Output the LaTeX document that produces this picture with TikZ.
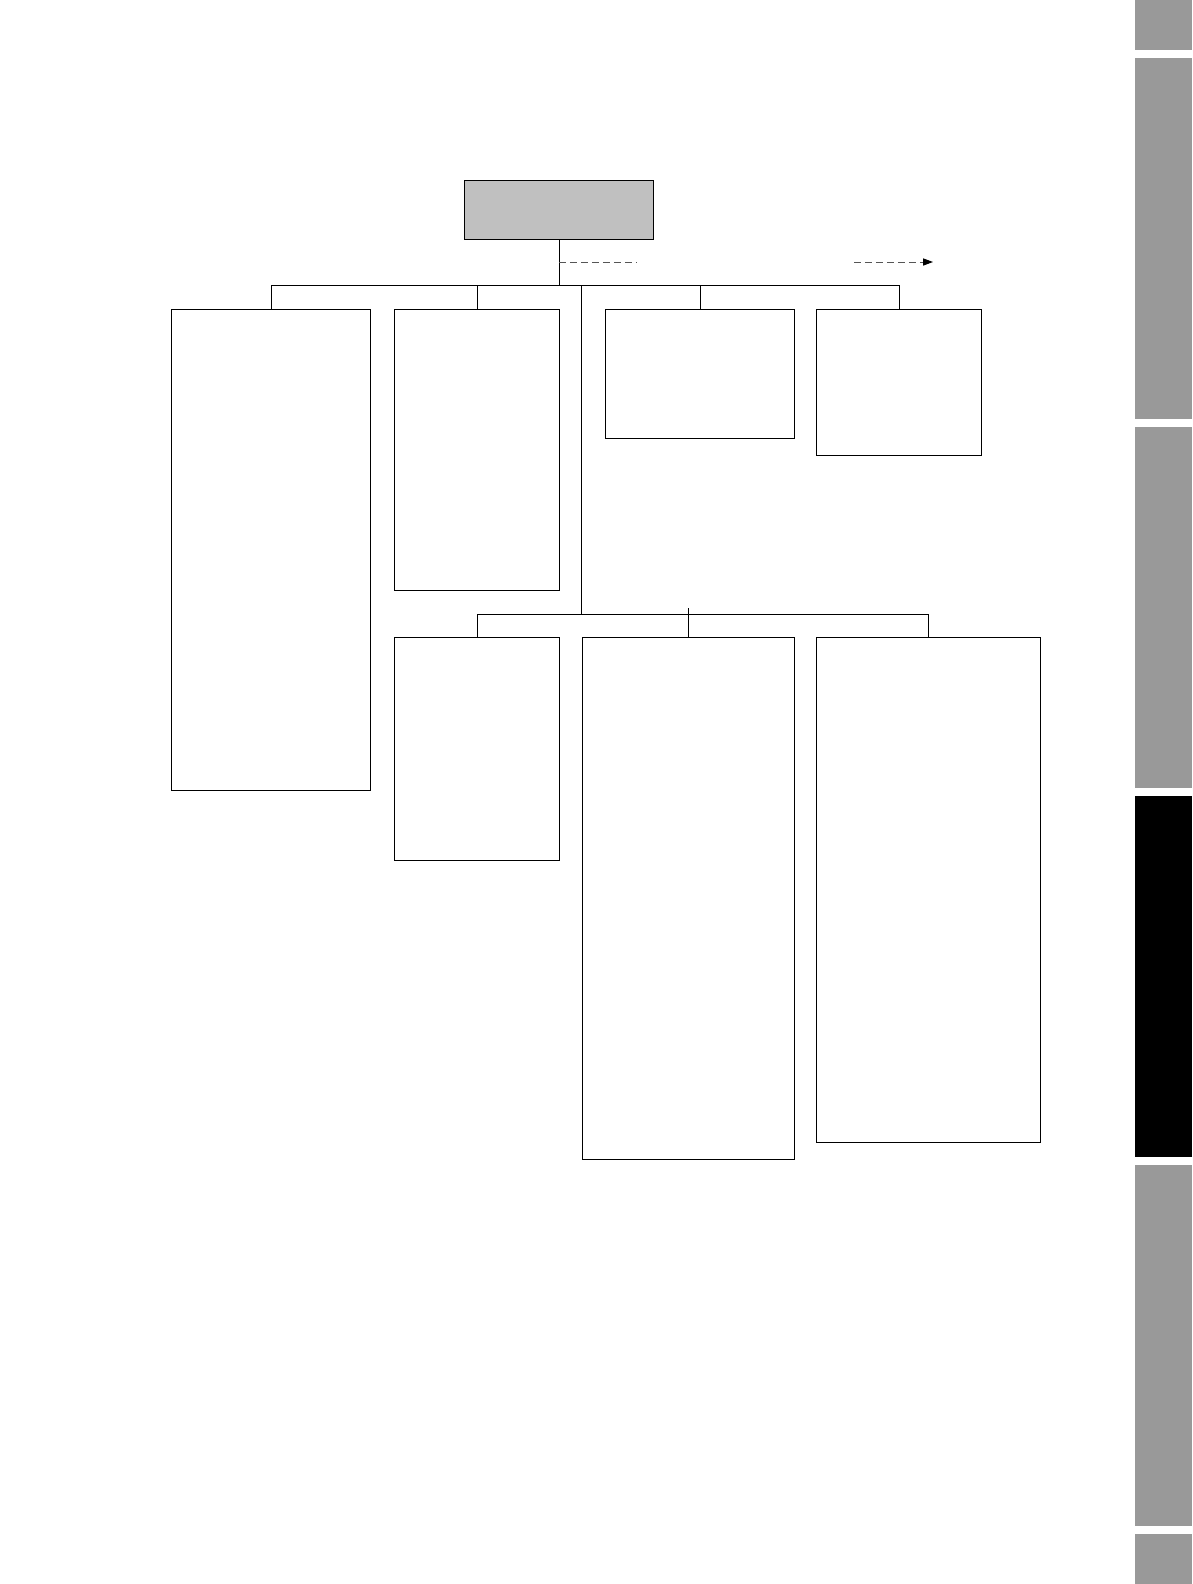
\documentclass[tikz,border=0pt]{standalone}
\usepackage{tikz}
\usetikzlibrary{calc,arrows,arrows.meta}
\usepackage{xcolor}
\definecolor{tabgray}{HTML}{999999}
\definecolor{headgray}{HTML}{C0C0C0}
\definecolor{dashgray}{HTML}{555555}

\begin{document}
\begin{tikzpicture}[x=0.025cm,y=-0.025cm,line width=0.7pt,
	box/.style={draw,anchor=north west,inner sep=0pt},
	dashline/.style={dashgray,dash pattern=on 5pt off 2.8pt}]
			\useasboundingbox (0,0) rectangle (1192,1584);
			% side tabs
			\fill[tabgray] (1135,0) rectangle (1192,50);
			\fill[tabgray] (1135,58) rectangle (1192,419);
			\fill[tabgray] (1135,427) rectangle (1192,788);
			\fill[black] (1135,796) rectangle (1192,1157);
			\fill[tabgray] (1135,1165) rectangle (1192,1526);
			\fill[tabgray] (1135,1534) rectangle (1192,1584);
			% boxes
			\node[box,fill=headgray,minimum width=4.725cm,minimum height=1.475cm] (top) at (464,180) {};
			\node[box,minimum width=4.975cm,minimum height=12.025cm] (a) at (171,309) {};
			\node[box,minimum width=4.125cm,minimum height=7.025cm] (b) at (394,309) {};
			\node[box,minimum width=4.725cm,minimum height=3.225cm] (c) at (605,309) {};
			\node[box,minimum width=4.125cm,minimum height=3.65cm] (d) at (816,309) {};
			\node[box,minimum width=4.125cm,minimum height=5.575cm] (e) at (394,637) {};
			\node[box,minimum width=5.3cm,minimum height=13.05cm] (f) at (582,637) {};
			\node[box,minimum width=5.6cm,minimum height=12.625cm] (g) at (816,637) {};
			% connectors
			\coordinate (bus1) at (0,285);
			\coordinate (bus2) at (0,614);
			\coordinate (trunk) at (581.5,285);
			\coordinate (dash1) at (637,262);
			\coordinate (dash2) at (854,262);
			\coordinate (tip) at (933,262);
			\draw (top.south) -- (top.south |- bus1);
			\draw (a.north) -- (a.north |- bus1) -| (d.north);
			\draw (b.north) -- (b.north |- bus1);
			\draw (c.north) -- (c.north |- bus1);
			\draw (trunk) -- (trunk |- bus2);
			\draw (e.north) -- (e.north |- bus2) -| (g.north);
			\draw (f.north) -- ($(f.north |- bus2)+(0,-6)$);
			\draw[dashline] (top.south |- dash1) -- (dash1);
			\draw[dashline,-{Triangle[length=7pt,width=5pt,black]}] (dash2) -- (tip);
\end{tikzpicture}
\end{document}
